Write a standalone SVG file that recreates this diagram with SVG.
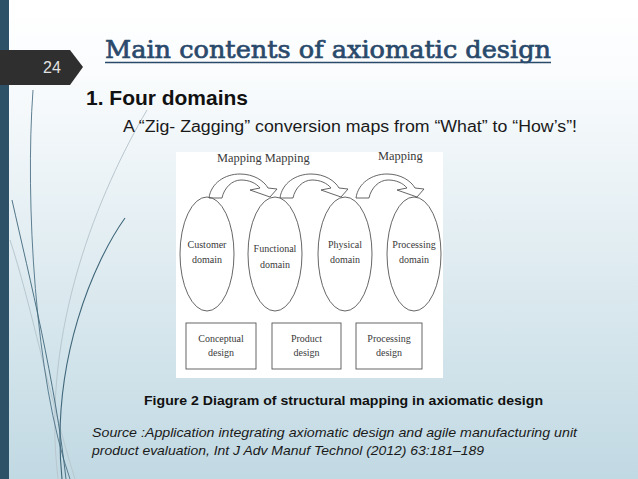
<svg xmlns="http://www.w3.org/2000/svg" xmlns:xlink="http://www.w3.org/1999/xlink" width="638" height="479" viewBox="0 0 638 479">
<style>
.fig{font-family:"Liberation Serif","Times New Roman",serif;font-size:10px;fill:#3a3a3a;text-anchor:middle}
.map{font-family:"Liberation Serif","Times New Roman",serif;font-size:12.4px;fill:#3a3a3a}
.shape{fill:none;stroke:#555;stroke-width:0.9}
.arrow{fill:#fff;stroke:#555;stroke-width:0.9;stroke-linejoin:round}
.sans{font-family:"Liberation Sans",Arial,sans-serif}
.deco{fill:none}
</style>
<defs>
<linearGradient id="bg" x1="0" y1="0" x2="0" y2="1">
<stop offset="0" stop-color="#ffffff"/>
<stop offset="0.15" stop-color="#fafcfd"/>
<stop offset="1" stop-color="#c1d9e3"/>
</linearGradient>
<path id="carrow" d="M 0 0 C 2 -15 16 -24 31 -24 C 45 -24 55 -17 59 -10 L 68 -9 L 61 -1 L 41 -8 L 51 -10 C 47 -15 40 -18 32 -18 C 23 -18 15 -10 13 0 Z"/>
</defs>
<rect x="0" y="0" width="638" height="479" fill="url(#bg)"/>
<g id="decoration">
<path class="deco" d="M 147 110 C 100 190 40 330 58 479" stroke="#b9c7ce" stroke-width="1"/>
<path class="deco" d="M 10 240 C 30 300 50 400 75 479" stroke="#b8c8cf" stroke-width="1"/>
<path class="deco" d="M 33 90 C 25 200 35 380 70 479" stroke="#4d7286" stroke-width="0.9"/>
<path class="deco" d="M 125 218 C 95 260 50 360 62 479" stroke="#3f6679" stroke-width="1.1"/>
<path class="deco" d="M 12 200 C 30 280 55 380 66 479" stroke="#3f6679" stroke-width="0.9"/>
</g>
<rect id="leftbar" x="0" y="0" width="9" height="479" fill="#2d5267"/>
<g id="badge">
<polygon points="0,50 70,50 83,67 70,85 0,85" fill="#2f2f2f"/>
<text x="52" y="73" class="sans" font-size="16" fill="#e2e2e2" text-anchor="middle">24</text>
</g>
<g id="title">
<text x="105" y="58" font-family="'DejaVu Serif','Liberation Serif',serif" font-size="25" fill="#2a4a6c" stroke="#2a4a6c" stroke-width="0.7" textLength="446" lengthAdjust="spacingAndGlyphs">Main contents of axiomatic design</text>
<line x1="105" y1="62.5" x2="551" y2="62.5" stroke="#2a4a6c" stroke-width="1.5"/>
</g>
<text id="heading" x="86" y="105" class="sans" font-weight="bold" font-size="20.5" fill="#111" textLength="162" lengthAdjust="spacingAndGlyphs">1. Four domains</text>
<text id="subtitle" x="123" y="132" class="sans" font-size="16" fill="#1a1a1a" textLength="454" lengthAdjust="spacingAndGlyphs">A “Zig- Zagging” conversion maps from “What” to “How’s”!</text>
<rect id="figure-bg" x="176" y="152" width="267" height="226" fill="#ffffff"/>
<g id="mapping-labels">
<text class="map" x="217" y="162">Mapping Mapping</text>
<text class="map" x="378" y="160">Mapping</text>
</g>
<g id="connectors">
<use xlink:href="#carrow" href="#carrow" class="arrow" transform="translate(209,198)"/>
<use xlink:href="#carrow" href="#carrow" class="arrow" transform="translate(280,198)"/>
<use xlink:href="#carrow" href="#carrow" class="arrow" transform="translate(356,198)"/>
</g>
<g id="customer-domain">
<ellipse class="shape" cx="207" cy="254" rx="27" ry="57"/>
<text class="fig" x="207" y="248">Customer</text>
<text class="fig" x="207" y="263">domain</text>
</g>
<g id="functional-domain">
<ellipse class="shape" cx="275" cy="254" rx="27" ry="57"/>
<text class="fig" x="275" y="252">Functional</text>
<text class="fig" x="275" y="268">domain</text>
</g>
<g id="physical-domain">
<ellipse class="shape" cx="345" cy="254" rx="27" ry="57"/>
<text class="fig" x="345" y="248">Physical</text>
<text class="fig" x="345" y="263">domain</text>
</g>
<g id="processing-domain">
<ellipse class="shape" cx="414" cy="254" rx="27" ry="57"/>
<text class="fig" x="414" y="248">Processing</text>
<text class="fig" x="414" y="263">domain</text>
</g>
<g id="conceptual-design">
<rect class="shape" x="186" y="323" width="70" height="46"/>
<text class="fig" x="221" y="342">Conceptual</text>
<text class="fig" x="221" y="356">design</text>
</g>
<g id="product-design">
<rect class="shape" x="272" y="323" width="69" height="46"/>
<text class="fig" x="306.5" y="342">Product</text>
<text class="fig" x="306.5" y="356">design</text>
</g>
<g id="processing-design">
<rect class="shape" x="356" y="323" width="66" height="46"/>
<text class="fig" x="389" y="342">Processing</text>
<text class="fig" x="389" y="356">design</text>
</g>
<text id="caption" x="144" y="405" class="sans" font-weight="bold" font-size="12.5" fill="#111" textLength="399" lengthAdjust="spacingAndGlyphs">Figure 2 Diagram of structural mapping in axiomatic design</text>
<g id="source" class="sans" font-style="italic" font-size="13.5" fill="#1a1a1a">
<text x="92" y="437" textLength="485" lengthAdjust="spacingAndGlyphs">Source :Application integrating axiomatic design and agile manufacturing unit</text>
<text x="92" y="455" textLength="392" lengthAdjust="spacingAndGlyphs">product evaluation, Int J Adv Manuf Technol (2012) 63:181–189</text>
</g>
</svg>
